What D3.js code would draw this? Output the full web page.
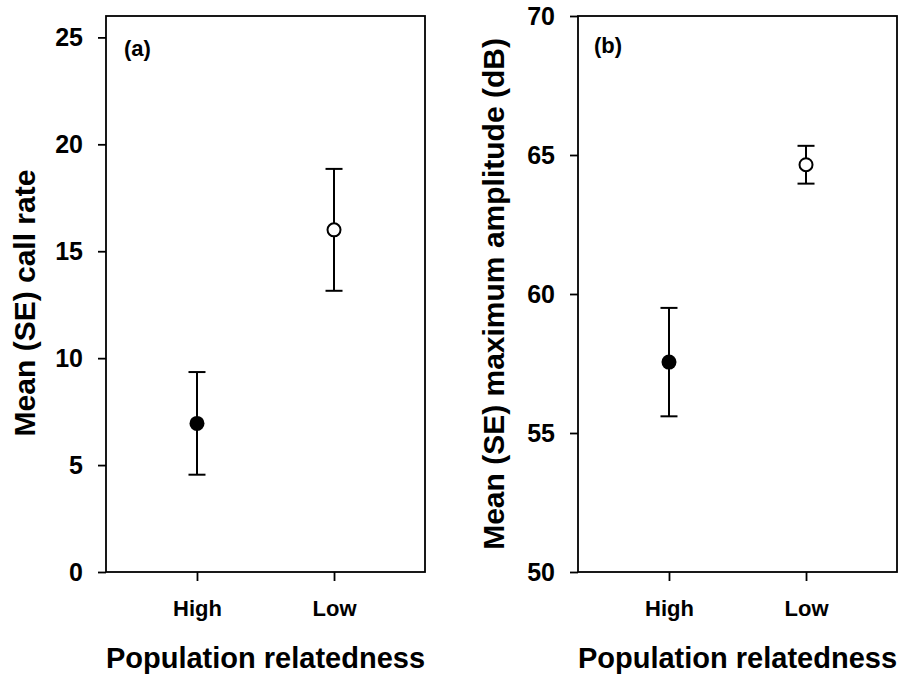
<!DOCTYPE html>
<html>
<head>
<meta charset="utf-8">
<script src="https://cdn.jsdelivr.net/npm/d3@7"></script>
<style>
  html, body { margin: 0; padding: 0; background: #fff; }
  svg { display: block; }
  text { font-family: "Liberation Sans", Arial, Helvetica, sans-serif; font-weight: bold; fill: #000; }
</style>
</head>
<body>
<svg id="chart" width="902" height="677"></svg>
<script>
// ---- data ----
const categories = ["High", "Low"];
const callRateMean = [6.95, 16.0];
const callRateSE = [2.4, 2.85];
const ampMean = [57.55, 64.65];
const ampSE = [1.95, 0.68];
const callRateTicks = [0, 5, 10, 15, 20, 25];
const ampTicks = [50, 55, 60, 65, 70];
const markerFill = ["#000", "#fff"];

const svg = d3.select("#chart");

const panels = [
  { tag: "(a)", mean: callRateMean, se: callRateSE, ticks: callRateTicks, domain: [0, 26],
    ytitle: "Mean (SE) call rate", x0: 106, x1: 425, y0: 16, y1: 572,
    tagX: 124, tagY: 56, titleX: 35, titleY: 303 },
  { tag: "(b)", mean: ampMean, se: ampSE, ticks: ampTicks, domain: [50, 70],
    ytitle: "Mean (SE) maximum amplitude (dB)", x0: 578, x1: 897, y0: 16, y1: 572,
    tagX: 594, tagY: 53, titleX: 504, titleY: 294 }
];

panels.forEach(p => {
  const x = d3.scalePoint().domain(categories).range([p.x0, p.x1]).padding(0.664);
  const y = d3.scaleLinear().domain(p.domain).range([p.y1, p.y0]);

  const g = svg.append("g");

  // y axis
  const ya = g.append("g")
    .attr("transform", `translate(${p.x0},0)`)
    .call(d3.axisLeft(y).tickValues(p.ticks).tickSize(8).tickSizeOuter(0).tickPadding(15).tickFormat(d3.format("d")));
  ya.select(".domain").remove();
  ya.selectAll(".tick line").attr("stroke", "#000").attr("stroke-width", 1.8);
  ya.selectAll(".tick text").style("font-size", "25px").attr("fill", "#000");

  // x axis
  const xa = g.append("g")
    .attr("transform", `translate(0,${p.y1})`)
    .call(d3.axisBottom(x).tickSize(9).tickSizeOuter(0).tickPadding(19));
  xa.select(".domain").remove();
  xa.selectAll(".tick line").attr("stroke", "#000").attr("stroke-width", 1.8);
  xa.selectAll(".tick text").style("font-size", "22px").attr("fill", "#000");

  // frame
  g.append("rect")
    .attr("x", p.x0).attr("y", p.y0)
    .attr("width", p.x1 - p.x0).attr("height", p.y1 - p.y0)
    .attr("fill", "none").attr("stroke", "#000").attr("stroke-width", 1.8);

  // error bars
  const capHalf = 8.5;
  categories.forEach((c, i) => {
    const cx = x(c);
    const lo = y(p.mean[i] - p.se[i]);
    const hi = y(p.mean[i] + p.se[i]);
    g.append("line").attr("x1", cx).attr("x2", cx).attr("y1", lo).attr("y2", hi)
      .attr("stroke", "#000").attr("stroke-width", 2);
    [lo, hi].forEach(yy => {
      g.append("line").attr("x1", cx - capHalf).attr("x2", cx + capHalf).attr("y1", yy).attr("y2", yy)
        .attr("stroke", "#000").attr("stroke-width", 2);
    });
    g.append("circle").attr("cx", cx).attr("cy", y(p.mean[i]))
      .attr("r", i === 0 ? 7.5 : 6.5)
      .attr("fill", markerFill[i]).attr("stroke", "#000").attr("stroke-width", i === 0 ? 0 : 2);
  });

  // panel tag
  g.append("text").attr("x", p.tagX).attr("y", p.tagY).style("font-size", "22px").text(p.tag);

  // y title
  g.append("text")
    .attr("transform", `translate(${p.titleX},${p.titleY}) rotate(-90)`)
    .attr("text-anchor", "middle")
    .style("font-size", "30px")
    .text(p.ytitle);

  // x title
  g.append("text")
    .attr("x", (p.x0 + p.x1) / 2).attr("y", 668)
    .attr("text-anchor", "middle")
    .style("font-size", "29px")
    .text("Population relatedness");
});
</script>
</body>
</html>
